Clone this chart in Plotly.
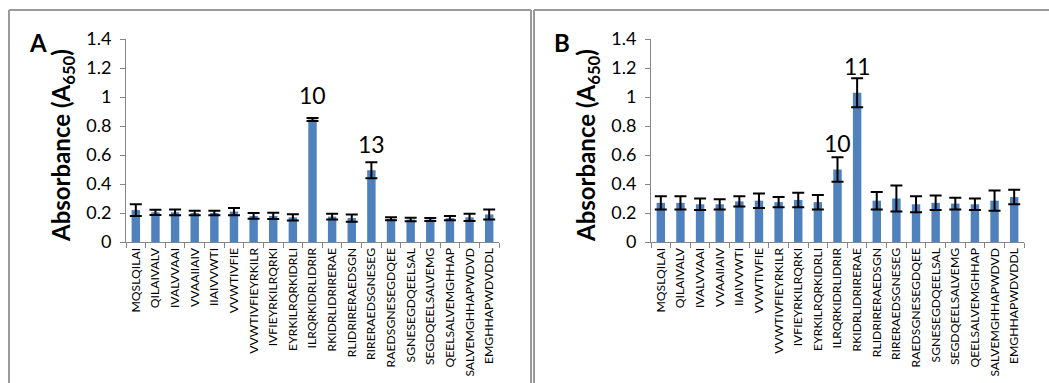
import plotly.graph_objects as go

W, H = 1049, 383

peptides = ["MQSLQILAI", "QILAIVALV", "IVALVVAAI", "VVAAIIAIV", "IIAIVVWTI", "VVWTIVFIE",
            "VVWTIVFIEYRKILR", "IVFIEYRKILRQRKI", "EYRKILRQRKIDRLI", "ILRQRKIDRLIDRIR",
            "RKIDRLIDRIRERAE", "RLIDRIRERAEDSGN", "RIRERAEDSGNESEG", "RAEDSGNESEGDQEE",
            "SGNESEGDQEELSAL", "SEGDQEELSALVEMG", "QEELSALVEMGHHAP", "SALVEMGHHAPWDVD",
            "EMGHHAPWDVDDL"]

abs_a = [0.22, 0.205, 0.205, 0.20, 0.20, 0.21, 0.18, 0.18, 0.17, 0.845,
         0.175, 0.165, 0.495, 0.16, 0.155, 0.155, 0.165, 0.17, 0.19]
err_a = [0.04, 0.018, 0.02, 0.015, 0.015, 0.025, 0.02, 0.022, 0.022, 0.01,
         0.02, 0.025, 0.055, 0.01, 0.012, 0.01, 0.015, 0.025, 0.035]

abs_b = [0.27, 0.27, 0.26, 0.26, 0.28, 0.285, 0.275, 0.29, 0.275, 0.50,
         1.03, 0.285, 0.30, 0.26, 0.27, 0.265, 0.26, 0.285, 0.31]
err_b = [0.045, 0.045, 0.04, 0.035, 0.035, 0.05, 0.035, 0.05, 0.05, 0.085,
         0.10, 0.06, 0.09, 0.055, 0.05, 0.04, 0.04, 0.07, 0.05]

y_ticks = [0, 0.2, 0.4, 0.6, 0.8, 1.0, 1.2, 1.4]

BAR = "#4F81BD"
AXIS = "#868686"
FONT = "Lato"

def px_x(p):
    return p / W

def px_y(p):
    return 1 - p / H

fig = go.Figure()
for vals, errs, xa, ya in [(abs_a, err_a, "x", "y"), (abs_b, err_b, "x2", "y2")]:
    fig.add_trace(go.Bar(
        x=peptides, y=vals, xaxis=xa, yaxis=ya,
        marker=dict(color=BAR, line=dict(width=0)),
        error_y=dict(type="data", array=errs, visible=True, color="black",
                     thickness=2, width=6),
        showlegend=False,
    ))

xcommon = dict(type="category", showline=True, linecolor=AXIS, linewidth=1,
               ticks="outside", ticklen=5, tickcolor=AXIS, tickson="boundaries",
               tickangle=-90, tickfont=dict(family=FONT, size=12.2, color="black"),
               showgrid=False, zeroline=False, fixedrange=True, automargin=False)
ycommon = dict(range=[0, 1.4], tickvals=y_ticks, showline=True, linecolor=AXIS,
               linewidth=1, ticks="outside", ticklen=5, tickcolor=AXIS,
               tickfont=dict(family=FONT, size=18, color="black"),
               ticklabelstandoff=5,
               showgrid=False, zeroline=False, fixedrange=True, automargin=False)

y_dom = [px_y(242), px_y(39)]
fig.update_layout(
    width=W, height=H, margin=dict(l=0, r=0, t=0, b=0, autoexpand=False),
    paper_bgcolor="white", plot_bgcolor="white",
    bargap=0.57,
    xaxis=dict(domain=[px_x(126), px_x(499)], anchor="y", **xcommon),
    yaxis=dict(domain=y_dom, anchor="x", **ycommon),
    xaxis2=dict(domain=[px_x(651), px_x(1024)], anchor="y2", **xcommon),
    yaxis2=dict(domain=y_dom, anchor="x2", **ycommon),
)

# panel borders
border = dict(color="#9a9a9a", width=2)
lines = [
    (9, 10, 9, H), (9, 10, 531, 10), (531, 10, 531, H),
    (534, 10, 534, H), (534, 10, W, 10),
]
for x0, y0, x1, y1 in lines:
    fig.add_shape(type="line", xref="paper", yref="paper",
                  x0=px_x(x0), y0=px_y(y0), x1=px_x(x1), y1=px_y(y1), line=border)

# y-axis titles
for cx in [62, 587]:
    fig.add_annotation(xref="paper", yref="paper", x=px_x(cx), y=px_y(146),
                       text="<b>Absorbance (A<sub>650</sub>)</b>", textangle=-90,
                       showarrow=False, font=dict(family=FONT, size=24, color="black"),
                       xanchor="center", yanchor="middle")
# panel letters
for cx, letter in [(38, "A"), (562, "B")]:
    fig.add_annotation(xref="paper", yref="paper", x=px_x(cx), y=px_y(42),
                       text=f"<b>{letter}</b>", showarrow=False,
                       font=dict(family=FONT, size=24, color="black"),
                       xanchor="center", yanchor="middle")

# peak labels
peaks = [("x", "y", 9, abs_a, err_a, "10", 23),
         ("x", "y", 12, abs_a, err_a, "13", 18),
         ("x2", "y2", 9, abs_b, err_b, "10", 14),
         ("x2", "y2", 10, abs_b, err_b, "11", 12)]
for xa, ya, i, vals, errs, txt, shift in peaks:
    fig.add_annotation(xref=xa, yref=ya, x=peptides[i], y=vals[i] + errs[i],
                       text=txt, showarrow=False, yshift=shift,
                       font=dict(family=FONT, size=23, color="black"),
                       xanchor="center", yanchor="middle")

fig.write_html("out.html")
